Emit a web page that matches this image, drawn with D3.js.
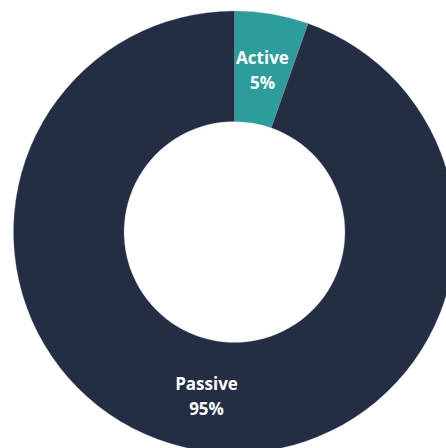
<!DOCTYPE html>
<html>
<head>
<meta charset="utf-8">
<script src="https://cdn.jsdelivr.net/npm/d3@7"></script>
<style>
  body { margin: 0; background: #fff; }
  svg { display: block; }
</style>
</head>
<body>
<div id="donut"></div>
<script>
var categories = ["Active", "Passive"];
var shares = [0.054, 0.946];
var colors = ["#2b9e9c", "#232e45"];

var width = 446, height = 448;
var cx = 234.5, cy = 232;
var outerR = 221, innerR = 110.5;

var svg = d3.select("#donut").append("svg")
  .attr("width", width)
  .attr("height", height);

var g = svg.append("g")
  .attr("transform", "translate(" + cx + "," + cy + ")");

var data = categories.map(function(c, i) { return { name: c, value: shares[i] }; });

var pie = d3.pie()
  .sort(null)
  .value(function(d) { return d.value; });

var arc = d3.arc()
  .innerRadius(innerR)
  .outerRadius(outerR);

var color = d3.scaleOrdinal()
  .domain(categories)
  .range(colors);

var slices = g.selectAll(".slice")
  .data(pie(data))
  .enter()
  .append("g")
  .attr("class", "slice");

slices.append("path")
  .attr("d", arc)
  .attr("fill", function(d) { return color(d.data.name); })
  .attr("stroke", "#8a93a3")
  .attr("stroke-width", 0.3);

var fmt = d3.format(".0%");

var labels = slices.append("text")
  .attr("transform", function(d) { return "translate(" + arc.centroid(d) + ")"; })
  .attr("text-anchor", "middle")
  .attr("fill", "#fff")
  .style("font-family", "'Open Sans', sans-serif")
  .style("font-weight", 700)
  .style("font-size", "17px");

labels.append("tspan")
  .attr("x", 0)
  .attr("y", -5)
  .text(function(d) { return d.data.name; });

labels.append("tspan")
  .attr("x", 0)
  .attr("y", 20)
  .text(function(d) { return fmt(d.data.value); });
</script>
</body>
</html>
